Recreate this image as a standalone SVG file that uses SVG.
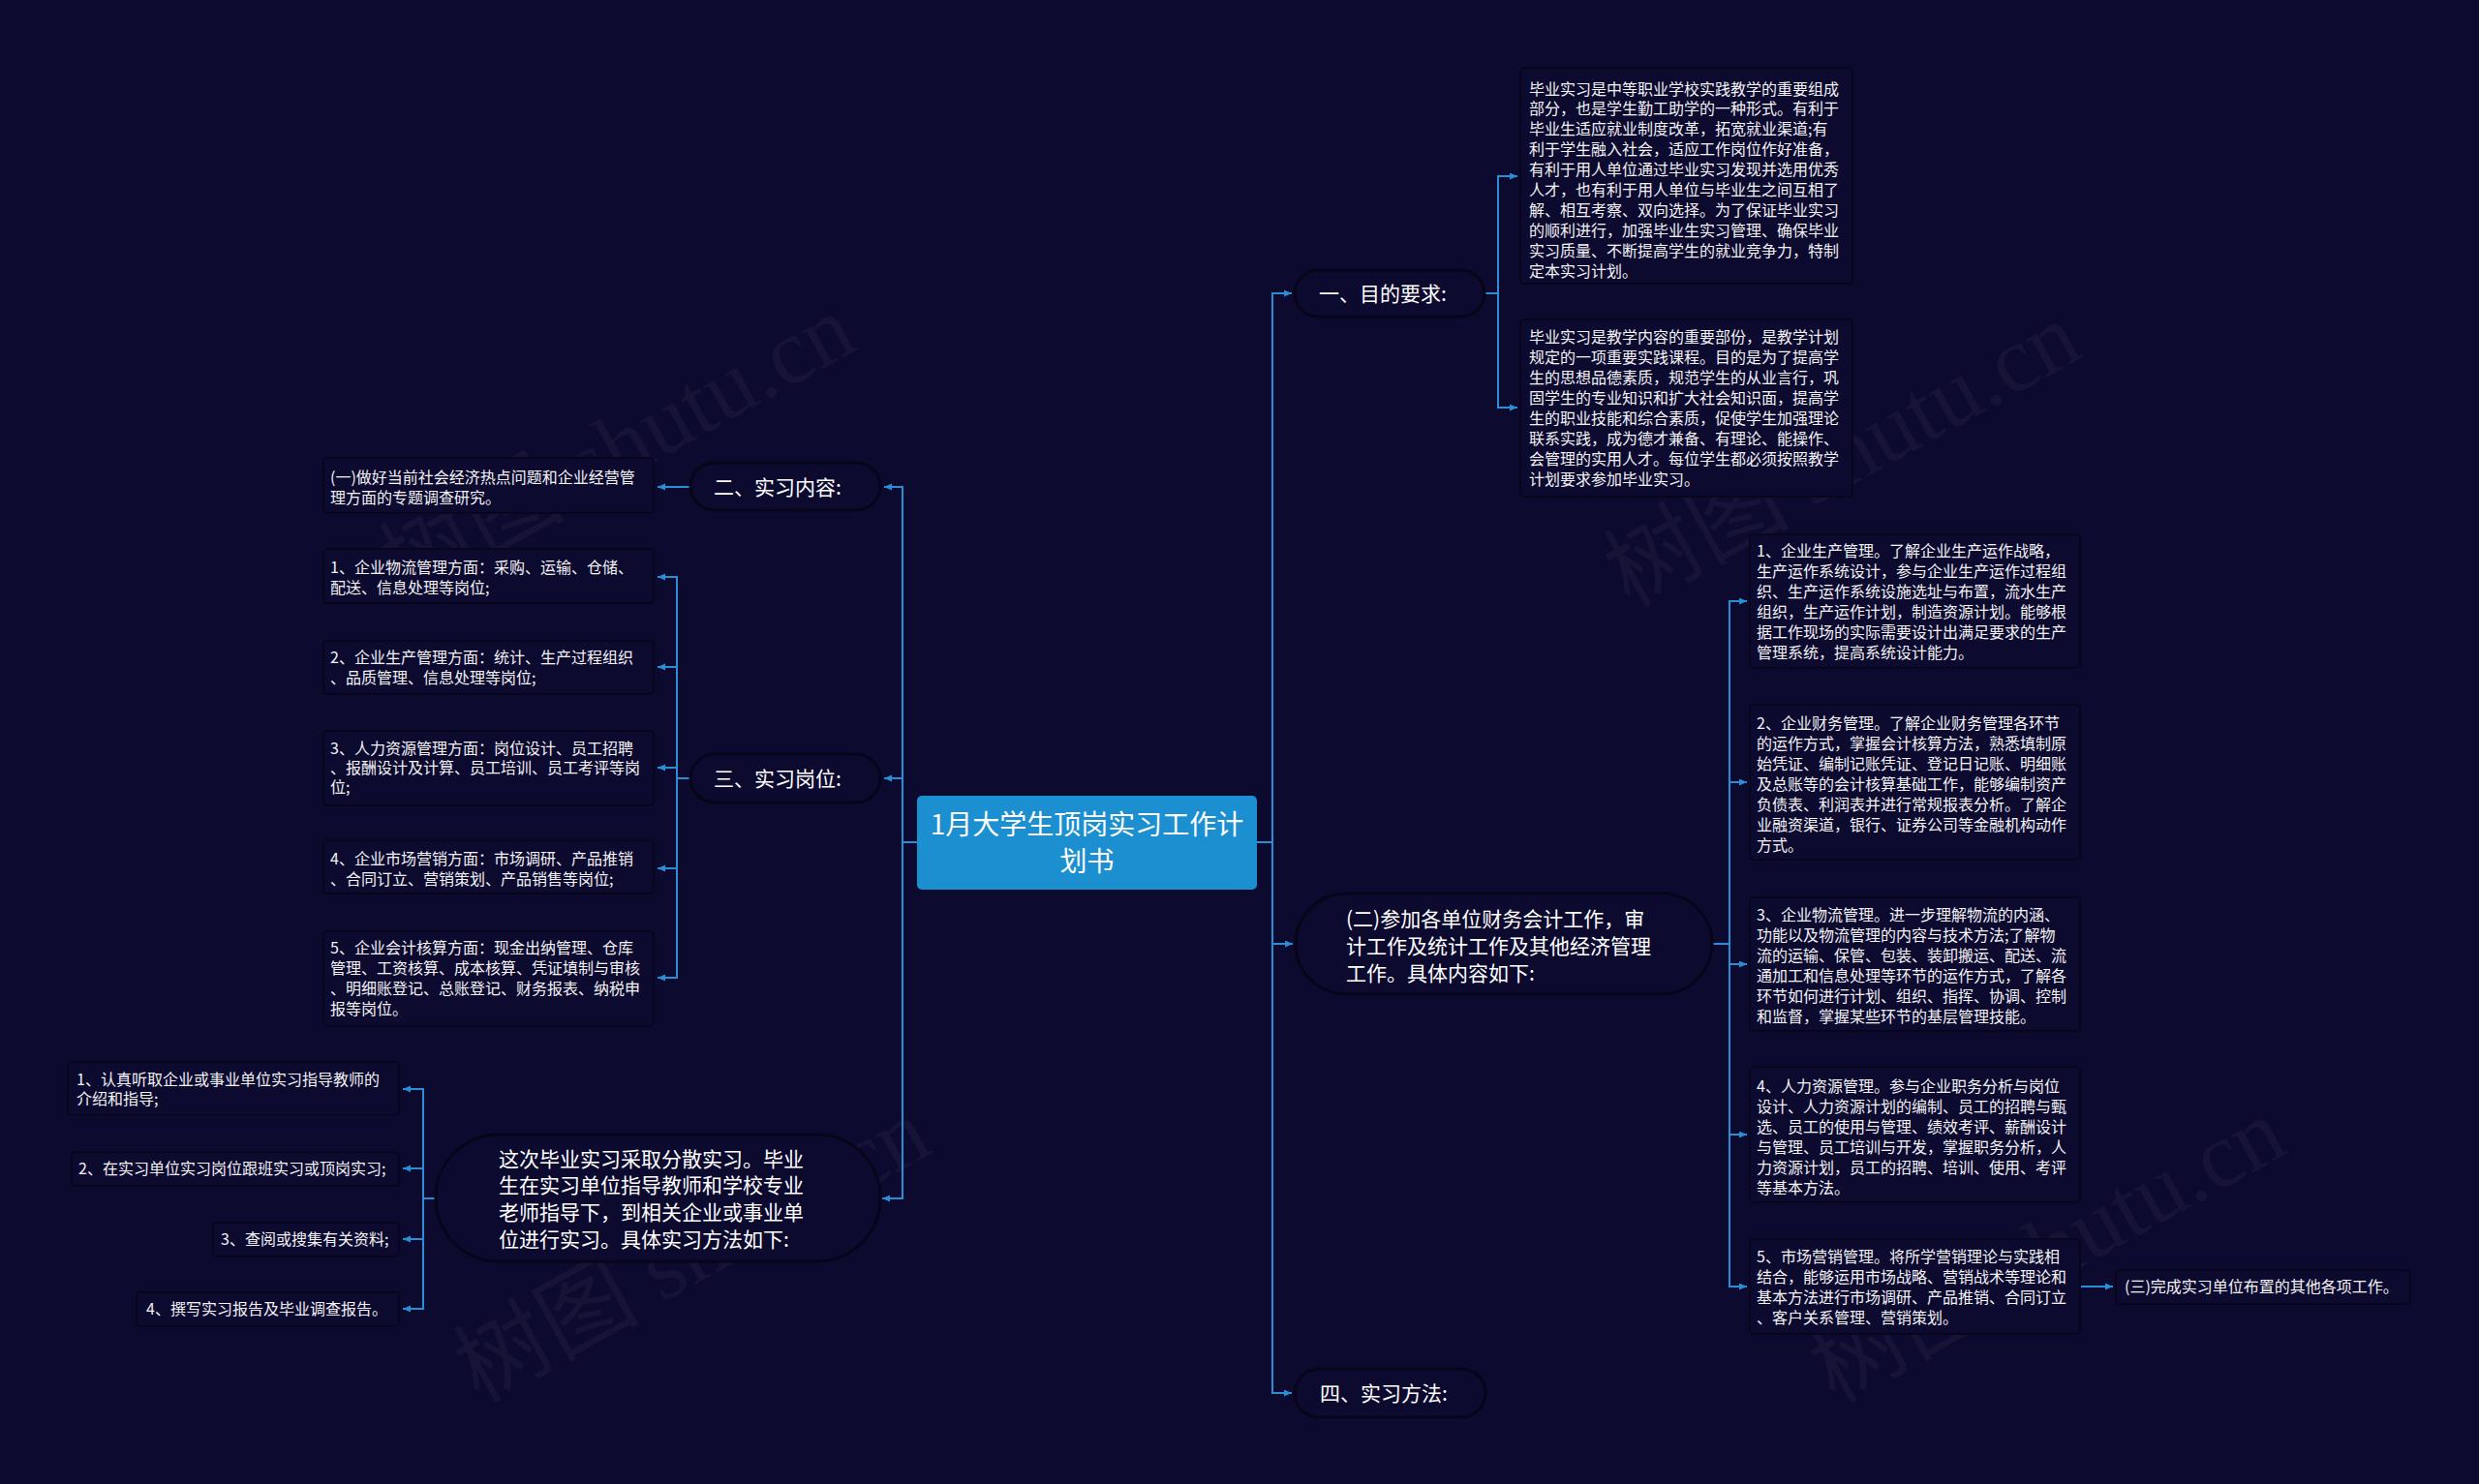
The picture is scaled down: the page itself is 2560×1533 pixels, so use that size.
<svg xmlns="http://www.w3.org/2000/svg" width="2560" height="1533" viewBox="0 0 2560 1533">
<defs>
<style>
.bg{fill:#0d0a2f}
.pill{fill:#0d0a2f;stroke:#06051a;stroke-width:3}
.box{fill:#0d0a2f;stroke:#07061c;stroke-width:2}
.t16{font-family:"Noto Sans CJK SC","Liberation Sans",sans-serif;font-size:16px;fill:#f2f2f6}
.t21{font-family:"Noto Sans CJK SC","Liberation Sans",sans-serif;font-size:21px;fill:#ffffff}
.t28{font-family:"Noto Sans CJK SC","Liberation Sans",sans-serif;font-size:28px;fill:#ffffff}
.wm{font-family:"Liberation Serif","Noto Sans CJK SC",serif;font-size:96px;fill:#ffffff;fill-opacity:0.04}
.c{fill:none;stroke:#2b8dd3;stroke-width:2}
</style>
<marker id="ah" markerUnits="userSpaceOnUse" markerWidth="9" markerHeight="8" refX="8" refY="3.5" orient="auto">
<path d="M0,0 L8,3.5 L0,7 z" fill="#2b8dd3"/>
</marker>
</defs>
<rect class="bg" x="0" y="0" width="2560" height="1533"/>

<g id="watermarks">
<text class="wm" transform="translate(653,490) rotate(-29)" text-anchor="middle">树图 shutu.cn</text>
<text class="wm" transform="translate(1918,498) rotate(-29)" text-anchor="middle">树图 shutu.cn</text>
<text class="wm" transform="translate(730,1320) rotate(-29)" text-anchor="middle">树图 shutu.cn</text>
<text class="wm" transform="translate(2130,1320) rotate(-29)" text-anchor="middle">树图 shutu.cn</text>
</g>

<g id="connectors">
<path class="c" d="M947,870 H932 V503 H913" marker-end="url(#ah)"/>
<path class="c" d="M947,870 H932 V804 H913" marker-end="url(#ah)"/>
<path class="c" d="M947,870 H932 V1238 H911" marker-end="url(#ah)"/>
<path class="c" d="M1298,870 H1314 V303 H1334" marker-end="url(#ah)"/>
<path class="c" d="M1298,870 H1314 V975 H1335" marker-end="url(#ah)"/>
<path class="c" d="M1298,870 H1314 V1439 H1334" marker-end="url(#ah)"/>
<path class="c" d="M1533,303 H1547 V182 H1567" marker-end="url(#ah)"/>
<path class="c" d="M1533,303 H1547 V421 H1567" marker-end="url(#ah)"/>
<path class="c" d="M1768,975 H1786 V621 H1804" marker-end="url(#ah)"/>
<path class="c" d="M1768,975 H1786 V808 H1804" marker-end="url(#ah)"/>
<path class="c" d="M1768,975 H1786 V996 H1804" marker-end="url(#ah)"/>
<path class="c" d="M1768,975 H1786 V1172 H1804" marker-end="url(#ah)"/>
<path class="c" d="M1768,975 H1786 V1329 H1804" marker-end="url(#ah)"/>
<path class="c" d="M2148,1329 H2182" marker-end="url(#ah)"/>
<path class="c" d="M713,503 H679" marker-end="url(#ah)"/>
<path class="c" d="M713,804 H699 V596 H679" marker-end="url(#ah)"/>
<path class="c" d="M713,804 H699 V689 H679" marker-end="url(#ah)"/>
<path class="c" d="M713,804 H699 V793 H679" marker-end="url(#ah)"/>
<path class="c" d="M713,804 H699 V897 H679" marker-end="url(#ah)"/>
<path class="c" d="M713,804 H699 V1010 H679" marker-end="url(#ah)"/>
<path class="c" d="M450,1238 H437 V1125 H416" marker-end="url(#ah)"/>
<path class="c" d="M450,1238 H437 V1207 H416" marker-end="url(#ah)"/>
<path class="c" d="M450,1238 H437 V1280 H416" marker-end="url(#ah)"/>
<path class="c" d="M450,1238 H437 V1352 H416" marker-end="url(#ah)"/>
</g>

<g id="root">
<rect x="947" y="822" width="351" height="97" rx="5" fill="#1b8fd0"/>
<text class="t28" x="1122.5" y="862" text-anchor="middle">1月大学生顶岗实习工作计</text>
<text class="t28" x="1122.5" y="900" text-anchor="middle">划书</text>
</g>

<g id="n-mudi">
<rect class="pill" x="1337" y="279" width="196" height="48" rx="24"/>
<text class="t21" x="1362" y="310.5">一、目的要求:</text>
</g>
<g id="n-mudi-1">
<rect class="box" x="1570" y="70" width="343" height="223" rx="4"/>
<text class="t16" x="1579" y="97.5">毕业实习是中等职业学校实践教学的重要组成</text>
<text class="t16" x="1579" y="118.4">部分，也是学生勤工助学的一种形式。有利于</text>
<text class="t16" x="1579" y="139.3">毕业生适应就业制度改革，拓宽就业渠道;有</text>
<text class="t16" x="1579" y="160.2">利于学生融入社会，适应工作岗位作好准备，</text>
<text class="t16" x="1579" y="181.1">有利于用人单位通过毕业实习发现并选用优秀</text>
<text class="t16" x="1579" y="202">人才，也有利于用人单位与毕业生之间互相了</text>
<text class="t16" x="1579" y="222.9">解、相互考察、双向选择。为了保证毕业实习</text>
<text class="t16" x="1579" y="243.8">的顺利进行，加强毕业生实习管理、确保毕业</text>
<text class="t16" x="1579" y="264.7">实习质量、不断提高学生的就业竞争力，特制</text>
<text class="t16" x="1579" y="285.6">定本实习计划。</text>
</g>
<g id="n-mudi-2">
<rect class="box" x="1570" y="330" width="343" height="183" rx="4"/>
<text class="t16" x="1579" y="354">毕业实习是教学内容的重要部份，是教学计划</text>
<text class="t16" x="1579" y="375">规定的一项重要实践课程。目的是为了提高学</text>
<text class="t16" x="1579" y="396">生的思想品德素质，规范学生的从业言行，巩</text>
<text class="t16" x="1579" y="417">固学生的专业知识和扩大社会知识面，提高学</text>
<text class="t16" x="1579" y="438">生的职业技能和综合素质，促使学生加强理论</text>
<text class="t16" x="1579" y="459">联系实践，成为德才兼备、有理论、能操作、</text>
<text class="t16" x="1579" y="480">会管理的实用人才。每位学生都必须按照教学</text>
<text class="t16" x="1579" y="501">计划要求参加毕业实习。</text>
</g>

<g id="n-canjia">
<rect class="pill" x="1338" y="923" width="430" height="104" rx="52"/>
<text class="t21" x="1390" y="956.5">(二)参加各单位财务会计工作，审</text>
<text class="t21" x="1390" y="984.5">计工作及统计工作及其他经济管理</text>
<text class="t21" x="1390" y="1012.5">工作。具体内容如下:</text>
</g>
<g id="n-canjia-1">
<rect class="box" x="1807" y="552" width="341" height="138" rx="4"/>
<text class="t16" x="1814" y="575">1、企业生产管理。了解企业生产运作战略，</text>
<text class="t16" x="1814" y="596">生产运作系统设计，参与企业生产运作过程组</text>
<text class="t16" x="1814" y="617">织、生产运作系统设施选址与布置，流水生产</text>
<text class="t16" x="1814" y="638">组织，生产运作计划，制造资源计划。能够根</text>
<text class="t16" x="1814" y="659">据工作现场的实际需要设计出满足要求的生产</text>
<text class="t16" x="1814" y="680">管理系统，提高系统设计能力。</text>
</g>
<g id="n-canjia-2">
<rect class="box" x="1807" y="728" width="341" height="160" rx="4"/>
<text class="t16" x="1814" y="753">2、企业财务管理。了解企业财务管理各环节</text>
<text class="t16" x="1814" y="774">的运作方式，掌握会计核算方法，熟悉填制原</text>
<text class="t16" x="1814" y="795">始凭证、编制记账凭证、登记日记账、明细账</text>
<text class="t16" x="1814" y="816">及总账等的会计核算基础工作，能够编制资产</text>
<text class="t16" x="1814" y="837">负债表、利润表并进行常规报表分析。了解企</text>
<text class="t16" x="1814" y="858">业融资渠道，银行、证券公司等金融机构动作</text>
<text class="t16" x="1814" y="879">方式。</text>
</g>
<g id="n-canjia-3">
<rect class="box" x="1807" y="927" width="341" height="138" rx="4"/>
<text class="t16" x="1814" y="951">3、企业物流管理。进一步理解物流的内涵、</text>
<text class="t16" x="1814" y="972">功能以及物流管理的内容与技术方法;了解物</text>
<text class="t16" x="1814" y="993">流的运输、保管、包装、装卸搬运、配送、流</text>
<text class="t16" x="1814" y="1014">通加工和信息处理等环节的运作方式，了解各</text>
<text class="t16" x="1814" y="1035">环节如何进行计划、组织、指挥、协调、控制</text>
<text class="t16" x="1814" y="1056">和监督，掌握某些环节的基层管理技能。</text>
</g>
<g id="n-canjia-4">
<rect class="box" x="1807" y="1102" width="341" height="140" rx="4"/>
<text class="t16" x="1814" y="1128">4、人力资源管理。参与企业职务分析与岗位</text>
<text class="t16" x="1814" y="1149">设计、人力资源计划的编制、员工的招聘与甄</text>
<text class="t16" x="1814" y="1170">选、员工的使用与管理、绩效考评、薪酬设计</text>
<text class="t16" x="1814" y="1191">与管理、员工培训与开发，掌握职务分析，人</text>
<text class="t16" x="1814" y="1212">力资源计划，员工的招聘、培训、使用、考评</text>
<text class="t16" x="1814" y="1233">等基本方法。</text>
</g>
<g id="n-canjia-5">
<rect class="box" x="1807" y="1280" width="341" height="98" rx="4"/>
<text class="t16" x="1814" y="1304">5、市场营销管理。将所学营销理论与实践相</text>
<text class="t16" x="1814" y="1325">结合，能够运用市场战略、营销战术等理论和</text>
<text class="t16" x="1814" y="1346">基本方法进行市场调研、产品推销、合同订立</text>
<text class="t16" x="1814" y="1367">、客户关系管理、营销策划。</text>
</g>
<g id="n-wancheng">
<rect class="box" x="2185" y="1312" width="304" height="35" rx="4"/>
<text class="t16" x="2194" y="1335">(三)完成实习单位布置的其他各项工作。</text>
</g>

<g id="n-fangfa">
<rect class="pill" x="1337" y="1414" width="197" height="50" rx="25"/>
<text class="t21" x="1363" y="1446.5">四、实习方法:</text>
</g>

<g id="n-neirong">
<rect class="pill" x="713" y="478" width="196" height="49" rx="24.5"/>
<text class="t21" x="737" y="510.5">二、实习内容:</text>
</g>
<g id="n-neirong-1">
<rect class="box" x="334" y="473" width="341" height="57" rx="4"/>
<text class="t16" x="341" y="499">(一)做好当前社会经济热点问题和企业经营管</text>
<text class="t16" x="341" y="519.5">理方面的专题调查研究。</text>
</g>

<g id="n-gangwei">
<rect class="pill" x="713" y="779" width="196" height="50" rx="25"/>
<text class="t21" x="737" y="811.5">三、实习岗位:</text>
</g>
<g id="n-gangwei-1">
<rect class="box" x="334" y="567" width="341" height="56" rx="4"/>
<text class="t16" x="341" y="592">1、企业物流管理方面：采购、运输、仓储、</text>
<text class="t16" x="341" y="612.5">配送、信息处理等岗位;</text>
</g>
<g id="n-gangwei-2">
<rect class="box" x="334" y="662" width="341" height="55" rx="4"/>
<text class="t16" x="341" y="685">2、企业生产管理方面：统计、生产过程组织</text>
<text class="t16" x="341" y="705.5">、品质管理、信息处理等岗位;</text>
</g>
<g id="n-gangwei-3">
<rect class="box" x="334" y="755" width="341" height="77" rx="4"/>
<text class="t16" x="341" y="779">3、人力资源管理方面：岗位设计、员工招聘</text>
<text class="t16" x="341" y="799">、报酬设计及计算、员工培训、员工考评等岗</text>
<text class="t16" x="341" y="819">位;</text>
</g>
<g id="n-gangwei-4">
<rect class="box" x="334" y="868" width="341" height="55" rx="4"/>
<text class="t16" x="341" y="893">4、企业市场营销方面：市场调研、产品推销</text>
<text class="t16" x="341" y="913.5">、合同订立、营销策划、产品销售等岗位;</text>
</g>
<g id="n-gangwei-5">
<rect class="box" x="334" y="962" width="341" height="98" rx="4"/>
<text class="t16" x="341" y="985">5、企业会计核算方面：现金出纳管理、仓库</text>
<text class="t16" x="341" y="1006">管理、工资核算、成本核算、凭证填制与审核</text>
<text class="t16" x="341" y="1027">、明细账登记、总账登记、财务报表、纳税申</text>
<text class="t16" x="341" y="1048">报等岗位。</text>
</g>

<g id="n-fangshi">
<rect class="pill" x="450" y="1172" width="459" height="131" rx="65"/>
<text class="t21" x="515" y="1204.5">这次毕业实习采取分散实习。毕业</text>
<text class="t21" x="515" y="1232.2">生在实习单位指导教师和学校专业</text>
<text class="t21" x="515" y="1259.9">老师指导下，到相关企业或事业单</text>
<text class="t21" x="515" y="1287.6">位进行实习。具体实习方法如下:</text>
</g>
<g id="n-fangshi-1">
<rect class="box" x="70" y="1097" width="342" height="55" rx="4"/>
<text class="t16" x="79" y="1121">1、认真听取企业或事业单位实习指导教师的</text>
<text class="t16" x="79" y="1141">介绍和指导;</text>
</g>
<g id="n-fangshi-2">
<rect class="box" x="74" y="1190" width="338" height="35" rx="4"/>
<text class="t16" x="81" y="1213">2、在实习单位实习岗位跟班实习或顶岗实习;</text>
</g>
<g id="n-fangshi-3">
<rect class="box" x="220" y="1263" width="192" height="35" rx="4"/>
<text class="t16" x="228" y="1286">3、查阅或搜集有关资料;</text>
</g>
<g id="n-fangshi-4">
<rect class="box" x="141" y="1335" width="271" height="35" rx="4"/>
<text class="t16" x="151" y="1358">4、撰写实习报告及毕业调查报告。</text>
</g>
</svg>
